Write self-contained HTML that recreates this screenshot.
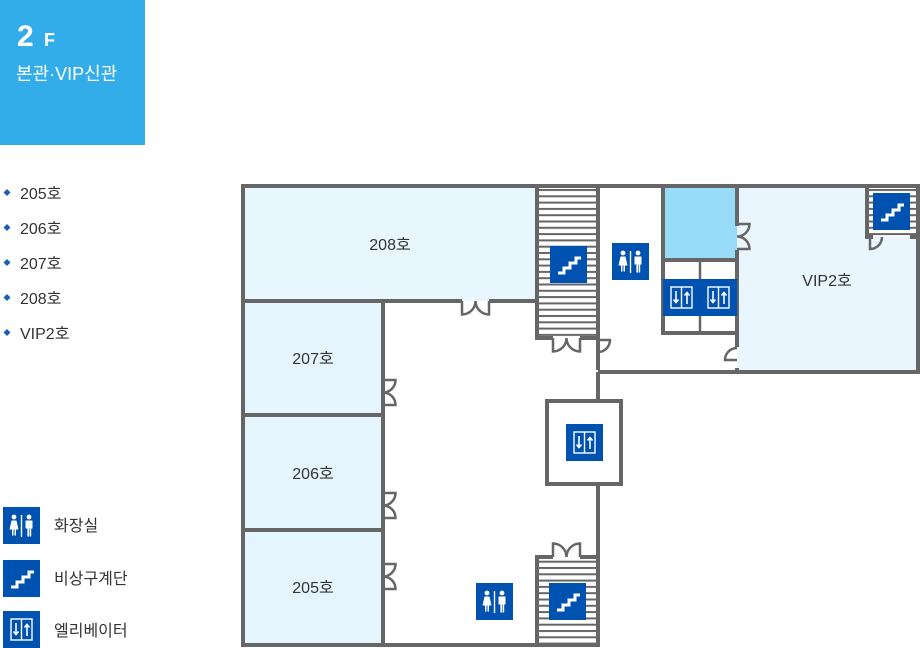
<!DOCTYPE html>
<html><head><meta charset="utf-8"><style>
body{margin:0;width:920px;height:648px;overflow:hidden;background:#fff;font-family:"Liberation Sans","Noto Sans CJK KR",sans-serif;}
</style></head><body>
<svg width="920" height="648" viewBox="0 0 920 648" xmlns="http://www.w3.org/2000/svg" style="position:absolute;left:0;top:0" font-family="Liberation Sans, Noto Sans CJK KR, sans-serif">
<defs>
<pattern id="st" x="0" y="0" width="10" height="6.3" patternUnits="userSpaceOnUse">
<rect width="10" height="6.3" fill="#fff"/><rect y="0" width="10" height="2" fill="#666"/></pattern>
<symbol id="toi" viewBox="0 0 37 37"><rect width="37" height="37" fill="#0052b0"/>
<g fill="#fff"><circle cx="11" cy="10" r="2.4"/><path d="M8.5 13.5h5l2 9h-2.5v6h-1.5v-6h-1v6h-1.5v-6h-2.5z"/>
<rect x="17.8" y="8" width="1.4" height="22"/>
<circle cx="26" cy="10" r="2.4"/><path d="M22.5 13.5h7v8h-1.3v8h-1.6v-8h-0.6v8h-1.6v-8h-1.9z"/></g></symbol>
<symbol id="sta" viewBox="0 0 37 37"><rect width="37" height="37" fill="#0052b0"/>
<path d="M8 27h6v-5h6v-5h6v-5h5" fill="none" stroke="#fff" stroke-width="3"/></symbol>
<symbol id="ele" viewBox="0 0 37 37"><rect width="37" height="37" fill="#0052b0"/>
<rect x="8" y="8" width="21" height="21" fill="none" stroke="#fff" stroke-width="1.4"/><line x1="18.5" y1="8" x2="18.5" y2="29" stroke="#fff" stroke-width="1.4"/>
<path d="M13 12v11M10.5 20.5l2.5 3 2.5-3M24 25v-11M21.5 16.5l2.5-3 2.5 3" fill="none" stroke="#fff" stroke-width="1.6"/></symbol>
</defs>
<rect x="0" y="0" width="145" height="145" fill="#33adea"/>
<text x="17" y="46" fill="#fff" font-size="30" font-weight="bold">2</text>
<text x="44" y="46" fill="#fff" font-size="18" font-weight="bold">F</text>
<text x="16" y="80" fill="#fff" font-size="18">본관·VIP신관</text>
<g fill="#333" font-size="16">
<g fill="#1a5fb4"><path d="M7 189l3.5 3.5-3.5 3.5-3.5-3.5z"/><path d="M7 224l3.5 3.5-3.5 3.5-3.5-3.5z"/><path d="M7 259l3.5 3.5-3.5 3.5-3.5-3.5z"/><path d="M7 294l3.5 3.5-3.5 3.5-3.5-3.5z"/><path d="M7 329l3.5 3.5-3.5 3.5-3.5-3.5z"/></g>
<text x="20" y="199">205호</text><text x="20" y="234">206호</text><text x="20" y="269">207호</text><text x="20" y="304">208호</text><text x="20" y="339">VIP2호</text>
<text x="54" y="531">화장실</text><text x="54" y="584">비상구계단</text><text x="54" y="636">엘리베이터</text>
</g>
<use href="#toi" x="3" y="507" width="37" height="37"/>
<use href="#sta" x="3" y="560" width="37" height="37"/>
<use href="#ele" x="3" y="611" width="37" height="37"/>

<rect x="243" y="186" width="294" height="115" fill="#e8f6fd"/>
<rect x="243" y="301" width="140" height="344" fill="#e5f5fe"/>
<rect x="663" y="186" width="74" height="74" fill="#99dcfa"/>
<rect x="737" y="186" width="181" height="184" fill="#eaf6fd"/>
<rect x="537" y="186" width="61" height="152" fill="url(#st)"/>
<rect x="537" y="557" width="61" height="88" fill="url(#st)"/>
<rect x="867" y="186" width="51" height="51" fill="url(#st)"/>
<rect x="663" y="279" width="74" height="37" fill="#0052b0"/>

<g fill="none" stroke="#666" stroke-width="4">
<path d="M598 370V186H243V645H598V484"/>
<path d="M598 372H918V186H598"/>
<path d="M598 372V401"/>
<rect x="547" y="401" width="74" height="83"/>
<path d="M243 301H462M489 301H537"/>
<path d="M537 186V338H553M580 338H598"/>
<path d="M383 301V645M243 415H383M243 530H383"/>
<path d="M537 645V557H553M580 557H598"/>
<path d="M663 186V333H737M663 260H737M737 186V226M737 250V347M737 368V372"/>
<path d="M867 186V237H873M910 237H918"/>
</g>
<g fill="none" stroke="#666" stroke-width="2.5">
<path d="M700 262V333"/>
<path d="M462 301V314.5A13.5 13.5 0 0 0 475.5 301A13.5 13.5 0 0 0 489 314.5V301"/>
<path d="M553 338V351.5A13.5 13.5 0 0 0 566.5 338A13.5 13.5 0 0 0 580 351.5V338"/>
<path d="M553 557V543.5A13.5 13.5 0 0 1 566.5 557A13.5 13.5 0 0 1 580 543.5V557"/>
<path d="M383 380H395.5A12.5 12.5 0 0 1 383 392.5A12.5 12.5 0 0 1 395.5 405H383"/>
<path d="M383 493H395.5A12.5 12.5 0 0 1 383 505.5A12.5 12.5 0 0 1 395.5 518H383"/>
<path d="M383 564H395.5A12.5 12.5 0 0 1 383 576.5A12.5 12.5 0 0 1 395.5 589H383"/>
<path d="M737 224H749.5A12.5 12.5 0 0 1 737 236.5A12.5 12.5 0 0 1 749.5 249H737"/>
<path d="M598 340H610A12 12 0 0 1 598 352"/>
<path d="M737 348A12 12 0 0 0 725 360H737"/>
<path d="M870 237V249A12 12 0 0 0 882 237"/>
</g>
<use href="#sta" x="550" y="246" width="37" height="37"/>
<use href="#toi" x="612" y="243" width="37" height="37"/>
<use href="#ele" x="663" y="279" width="37" height="37"/>
<use href="#ele" x="700" y="279" width="37" height="37"/>
<use href="#ele" x="566" y="424" width="37" height="37"/>
<use href="#toi" x="476" y="583" width="37" height="37"/>
<use href="#sta" x="549" y="583" width="37" height="37"/>
<use href="#sta" x="873" y="193" width="37" height="37"/>
<g fill="#333" font-size="16" text-anchor="middle">
<text x="390" y="250">208호</text><text x="313" y="364">207호</text><text x="313" y="479">206호</text><text x="313" y="593">205호</text><text x="827" y="286">VIP2호</text>
</g>
</svg>
</body></html>
